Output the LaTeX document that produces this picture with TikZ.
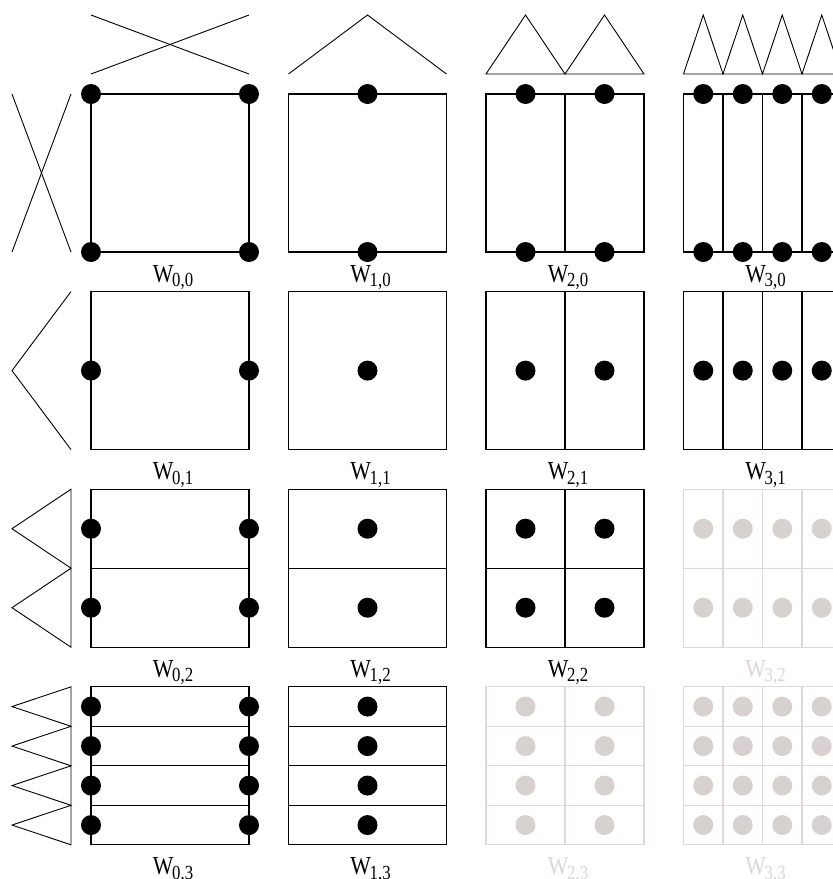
\documentclass[tikz,border=0pt]{standalone}
\usepackage{fontspec}
\setmainfont{Liberation Serif}
\usepackage{graphicx}
\definecolor{glines}{RGB}{222,217,216}
\definecolor{gdots}{RGB}{215,209,207}
\definecolor{gtext}{RGB}{220,214,212}
\newcommand\wlab[1]{\scalebox{0.84}[1]{\fontsize{26}{26}\selectfont W\kern-1.5pt\raisebox{-4.5pt}{\fontsize{20}{20}\selectfont #1}}}
\tikzset{
  sq/.style={line width=1.1pt},
  wav/.style={line width=0.9pt, line join=miter},
  lab/.style={anchor=base, inner sep=0pt}
}
\begin{document}
\begin{tikzpicture}[x=1pt,y=-1pt]
\useasboundingbox (0,0) rectangle (833,879);
\clip (0,0) rectangle (833,879);
% top wavelets
\draw[wav] (91,74) -- (249,15);
\draw[wav] (91,15) -- (249,74);
\draw[wav] (288.5,74) -- (367.5,15) -- (446.5,74);
\draw[wav] (486,74) -- (525.5,15) -- (565,74) -- (604.5,15) -- (644,74) -- cycle;
\draw[wav] (683.5,74) -- (703.25,15) -- (723,74) -- (742.75,15) -- (762.5,74) -- (782.25,15) -- (802,74) -- (821.75,15) -- (841.5,74) -- cycle;
% left wavelets
\draw[wav] (12,94) -- (71,252);
\draw[wav] (71,94) -- (12,252);
\draw[wav] (71,291.6) -- (12,370.6) -- (71,449.6);
\draw[wav] (71,489.2) -- (12,528.7) -- (71,568.2) -- (12,607.7) -- (71,647.2) -- cycle;
\draw[wav] (71,686.8) -- (12,706.55) -- (71,726.3) -- (12,746.05) -- (71,765.8) -- (12,785.55) -- (71,805.3) -- (12,825.05) -- (71,844.8) -- cycle;
% grid of squares
\foreach \i/\xs/\xl in {0/{0,1}/{0}, 1/{0.5}/{0}, 2/{0.25,0.75}/{0.5}, 3/{0.125,0.375,0.625,0.875}/{0.25,0.5,0.75}}{
  \foreach \j/\ys/\yl in {0/{0,1}/{0}, 1/{0.5}/{0}, 2/{0.25,0.75}/{0.5}, 3/{0.125,0.375,0.625,0.875}/{0.25,0.5,0.75}}{
    \pgfmathsetmacro\L{91+197.5*\i}
    \pgfmathsetmacro\T{94+197.6*\j}
    \ifnum\numexpr\i+\j\relax>4
      \def\lc{glines}\def\dc{gdots}\def\tc{gtext}
    \else
      \def\lc{black}\def\dc{black}\def\tc{black}
    \fi
    \draw[sq,\lc] (\L,\T) rectangle ++(158,158);
    \foreach \x in \xl {\draw[sq,\lc] ({\L+158*\x},\T) -- ++(0,158);}
    \foreach \y in \yl {\draw[sq,\lc] (\L,{\T+158*\y}) -- ++(158,0);}
    \foreach \x in \xs {\foreach \y in \ys {\fill[\dc] ({\L+158*\x},{\T+158*\y}) circle (10pt);}}
    \node[lab,text=\tc] (w\i\j) at ({\L+82},{\T+158+30}) {\wlab{\i,\j}};
  }
}
\end{tikzpicture}
\end{document}
